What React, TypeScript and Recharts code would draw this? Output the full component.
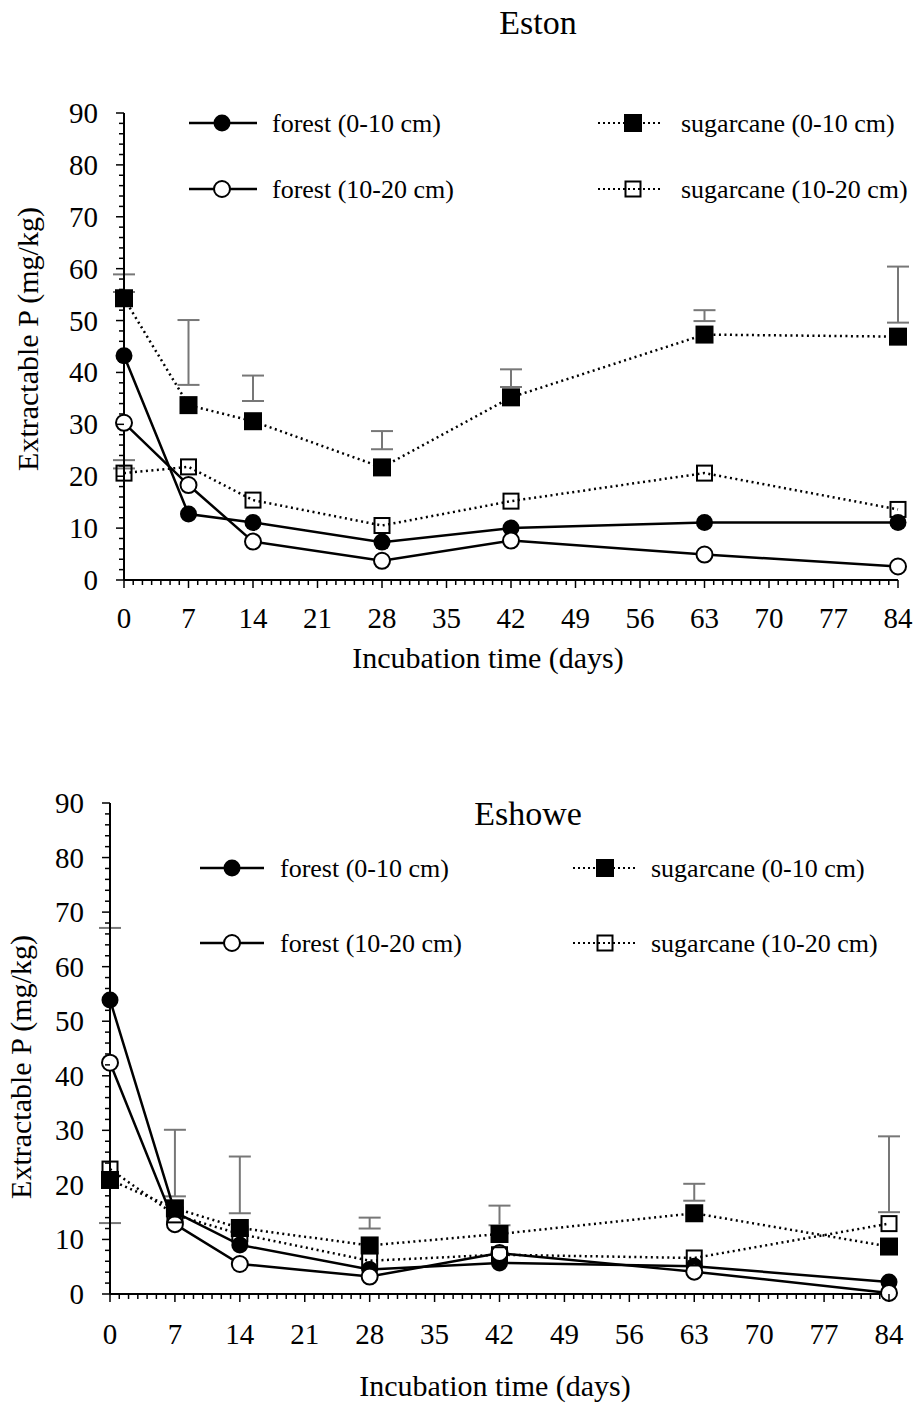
import React from 'react';
import { LineChart, Line, XAxis, YAxis, ErrorBar, Legend } from 'recharts';

// incubation days sampled
const days = [0, 7, 14, 28, 42, 63, 84];
const dayMajorTicks = [0, 7, 14, 21, 28, 35, 42, 49, 56, 63, 70, 77, 84];
const pMajorTicks = [0, 10, 20, 30, 40, 50, 60, 70, 80, 90];

// Eston (mg/kg)
const estonForest0 = [43.2, 12.7, 11.1, 7.3, 10.0, 11.1, 11.1];
const estonForest10 = [30.3, 18.3, 7.4, 3.7, 7.6, 4.9, 2.6];
const estonCane0 = [54.3, 33.7, 30.6, 21.7, 35.2, 47.3, 46.9];
const estonCane10 = [20.6, 21.8, 15.4, 10.5, 15.2, 20.6, 13.6];
const estonErrLow = [55.5, 37.6, 34.5, 25.2, 37.2, 49.9, 49.6];
const estonErrHigh = [58.9, 50.1, 39.4, 28.7, 40.6, 52.0, 60.4];
const estonErr2Low = [21.5, null, null, null, null, null, null];
const estonErr2High = [23.1, null, null, null, null, null, null];

// Eshowe (mg/kg)
const eshoweForest0 = [53.9, 15.0, 9.0, 4.5, 5.7, 5.1, 2.2];
const eshoweForest10 = [42.4, 12.8, 5.5, 3.2, 7.5, 4.1, 0.2];
const eshoweCane0 = [20.9, 15.7, 12.1, 8.9, 11.0, 14.8, 8.7];
const eshoweCane10 = [22.9, 14.5, 11.0, 6.1, 7.2, 6.6, 12.9];
const eshoweErrLow = [13.0, 17.9, 14.8, 12.0, 12.6, 17.1, 15.0];
const eshoweErrHigh = [67.1, 30.1, 25.2, 14.0, 16.2, 20.2, 28.9];

const seriesNames = ['forest (0-10 cm)', 'forest (10-20 cm)', 'sugarcane (0-10 cm)', 'sugarcane (10-20 cm)'];

const FONT = '"Liberation Serif", "Times New Roman", serif';
// every day / every 2 mg/kg gets a tick mark, the major ones get a label
const dayTicks = Array.from({ length: 85 }, (_, i) => i);
const pTicks = Array.from({ length: 46 }, (_, i) => i * 2);

function buildRows(f0, f10, c0, c10, lo, hi, lo2?, hi2?) {
    return days.map((d, i) => ({
        day: d,
        f0: f0[i],
        f10: f10[i],
        c0: c0[i],
        c10: c10[i],
        errMid: (lo[i] + hi[i]) / 2,
        errHalf: (hi[i] - lo[i]) / 2,
        err2Mid: lo2 && lo2[i] != null ? (lo2[i] + hi2[i]) / 2 : null,
        err2Half: lo2 && lo2[i] != null ? (hi2[i] - lo2[i]) / 2 : null,
    }));
}

function marker(kind: string, cx: number, cy: number, key?: any) {
    if (kind === 'filledCircle') return <circle key={key} cx={cx} cy={cy} r={8.5} fill="#000" />;
    if (kind === 'openCircle') return <circle key={key} cx={cx} cy={cy} r={8} fill="#fff" stroke="#000" strokeWidth={2} />;
    if (kind === 'filledSquare') return <rect key={key} x={cx - 9} y={cy - 9} width={18} height={18} fill="#000" />;
    return <rect key={key} x={cx - 7.5} y={cy - 7.5} width={15} height={15} fill="none" stroke="#000" strokeWidth={2} />;
}

const dotOf = (kind: string) => (props: any) => {
    const { cx, cy, index } = props;
    if (cx == null || cy == null) return <g key={index} />;
    return marker(kind, cx, cy, index);
};

const kinds = ['filledCircle', 'openCircle', 'filledSquare', 'openSquare'];

function XTick(props: any) {
    const { x, y, payload, labelDy } = props;
    const major = dayMajorTicks.includes(payload.value);
    return (
        <g>
            <line x1={x} x2={x} y1={y} y2={y + (major ? 8 : 5)} stroke="#000" strokeWidth={1.5} />
            {major && (
                <text x={x} y={y + labelDy} textAnchor="middle" dominantBaseline="central" fontSize={29} fontFamily={FONT} fill="#000">
                    {payload.value}
                </text>
            )}
        </g>
    );
}

function YTick(props: any) {
    const { x, y, payload } = props;
    const major = pMajorTicks.includes(payload.value);
    return (
        <g>
            <line x1={x - (major ? 8 : 5)} x2={x} y1={y} y2={y} stroke="#000" strokeWidth={1.5} />
            {major && (
                <text x={x - 26} y={y} textAnchor="end" dominantBaseline="central" fontSize={29} fontFamily={FONT} fill="#000">
                    {payload.value}
                </text>
            )}
        </g>
    );
}

function Panel({ cfg, rows }) {
    const renderLegend = () => {
        const items = seriesNames.map((name, i) => {
            const right = i >= 2;
            const col = right ? cfg.legendRight : cfg.legendLeft;
            const y = i % 2 === 0 ? cfg.legendRows[0] : cfg.legendRows[1];
            return (
                <g key={name}>
                    <line x1={col.x1} x2={col.x2} y1={y} y2={y} stroke="#000" strokeWidth={right ? 2 : 2.5}
                        strokeDasharray={right ? '2 3' : undefined} />
                    {marker(kinds[i], col.m, y)}
                    <text x={col.t} y={y} dominantBaseline="central" fontSize={26} fontFamily={FONT} fill="#000">{name}</text>
                </g>
            );
        });
        return (
            <svg width={cfg.width} height={cfg.height} style={{ display: 'block' }}>
                <text x={cfg.title.x} y={cfg.title.y} textAnchor="middle" dominantBaseline="central" fontSize={34} fontFamily={FONT} fill="#000">
                    {cfg.title.text}
                </text>
                {items}
            </svg>
        );
    };

    return (
        <LineChart width={cfg.width} height={cfg.height} data={rows} margin={cfg.margin}>
            <XAxis
                dataKey="day"
                type="number"
                domain={[0, 84]}
                ticks={dayTicks}
                interval={0}
                tickSize={0}
                tickMargin={0}
                height={60}
                axisLine={{ stroke: '#000', strokeWidth: 2 }}
                tickLine={false}
                tick={<XTick labelDy={cfg.xLabelDy} />}
                label={{
                    value: 'Incubation time (days)',
                    content: () => (
                        <text x={cfg.xTitle.x} y={cfg.xTitle.y} textAnchor="middle" dominantBaseline="central" fontSize={30} fontFamily={FONT} fill="#000">
                            Incubation time (days)
                        </text>
                    ),
                }}
            />
            <YAxis
                type="number"
                domain={[0, 90]}
                ticks={pTicks}
                interval={0}
                width={cfg.yWidth}
                tickSize={0}
                tickMargin={0}
                axisLine={{ stroke: '#000', strokeWidth: 2 }}
                tickLine={false}
                tick={<YTick />}
                label={{
                    value: 'Extractable P (mg/kg)',
                    content: () => (
                        <text x={cfg.yTitle.x} y={cfg.yTitle.y} textAnchor="middle" dominantBaseline="central" fontSize={30} fontFamily={FONT} fill="#000"
                            transform={`rotate(-90 ${cfg.yTitle.x} ${cfg.yTitle.y})`}>
                            Extractable P (mg/kg)
                        </text>
                    ),
                }}
            />
            <Legend
                layout="horizontal"
                verticalAlign="middle"
                align="center"
                content={renderLegend}
                wrapperStyle={{ position: 'absolute', left: 0, top: 0, width: cfg.width, height: cfg.height, pointerEvents: 'none' }}
            />
            <Line dataKey="errMid" stroke="none" dot={false} activeDot={false} legendType="none" isAnimationActive={false}>
                <ErrorBar dataKey="errHalf" width={11} strokeWidth={2} stroke="#777" direction="y" />
            </Line>
            <Line dataKey="err2Mid" stroke="none" dot={false} activeDot={false} legendType="none" isAnimationActive={false}>
                <ErrorBar dataKey="err2Half" width={11} strokeWidth={2} stroke="#777" direction="y" />
            </Line>
            <Line name={seriesNames[0]} dataKey="f0" type="linear" stroke="#000" strokeWidth={2.5} dot={dotOf(kinds[0])} activeDot={false} isAnimationActive={false} />
            <Line name={seriesNames[1]} dataKey="f10" type="linear" stroke="#000" strokeWidth={2.5} dot={dotOf(kinds[1])} activeDot={false} isAnimationActive={false} />
            <Line name={seriesNames[2]} dataKey="c0" type="linear" stroke="#000" strokeWidth={2.5} strokeDasharray="2 3.5" dot={dotOf(kinds[2])} activeDot={false} isAnimationActive={false} />
            <Line name={seriesNames[3]} dataKey="c10" type="linear" stroke="#000" strokeWidth={2.5} strokeDasharray="2 3.5" dot={dotOf(kinds[3])} activeDot={false} isAnimationActive={false} />
        </LineChart>
    );
}

const estonCfg = {
    width: 917,
    height: 700,
    margin: { top: 113, right: 19, left: 0, bottom: 60 },
    yWidth: 124,
    xLabelDy: 38,
    title: { text: 'Eston', x: 538, y: 22 },
    xTitle: { x: 488, y: 657 },
    yTitle: { x: 27, y: 339 },
    legendRows: [123, 189],
    legendLeft: { x1: 189, x2: 257, m: 222, t: 272 },
    legendRight: { x1: 598, x2: 660, m: 633, t: 681 },
};

const eshoweCfg = {
    width: 917,
    height: 712,
    margin: { top: 103, right: 28, left: 0, bottom: 58 },
    yWidth: 110,
    xLabelDy: 40,
    title: { text: 'Eshowe', x: 528, y: 113 },
    xTitle: { x: 495, y: 685 },
    yTitle: { x: 20, y: 367 },
    legendRows: [168, 243],
    legendLeft: { x1: 200, x2: 264, m: 232, t: 280 },
    legendRight: { x1: 573, x2: 637, m: 605, t: 651 },
};

export default function App() {
    const estonRows = buildRows(estonForest0, estonForest10, estonCane0, estonCane10, estonErrLow, estonErrHigh, estonErr2Low, estonErr2High);
    const eshoweRows = buildRows(eshoweForest0, eshoweForest10, eshoweCane0, eshoweCane10, eshoweErrLow, eshoweErrHigh);
    return (
        <div style={{ position: 'absolute', left: 0, top: 0, width: 917, height: 1412, background: '#fff', fontFamily: FONT }}>
            <div style={{ position: 'absolute', left: 0, top: 0 }}>
                <Panel cfg={estonCfg} rows={estonRows} />
            </div>
            <div style={{ position: 'absolute', left: 0, top: 700 }}>
                <Panel cfg={eshoweCfg} rows={eshoweRows} />
            </div>
        </div>
    );
}
